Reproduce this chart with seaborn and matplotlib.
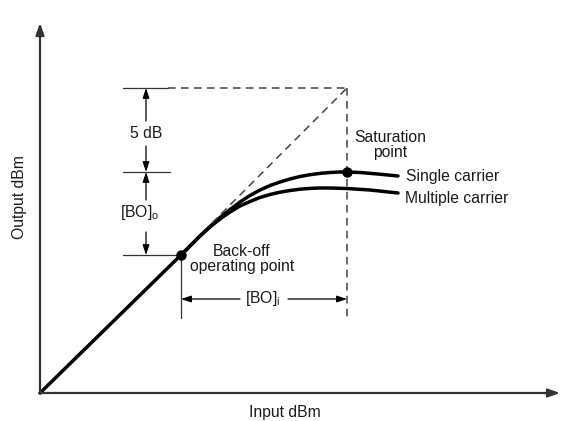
import matplotlib
matplotlib.use('Agg')
import matplotlib.pyplot as plt
import seaborn as sns

sns.set_style('white')
plt.rcParams['font.family'] = ['Liberation Sans', 'DejaVu Sans']

# chart units: origin at the axes corner, 1 unit ~ 1 px
linear_x = [0, 141]
linear_y = [0, 138]
ideal_x = [172, 307]
ideal_y = [170, 305]
single_x = [141, 150, 160, 170, 180, 190, 200, 210, 220, 230, 240, 250, 260, 270, 280, 290, 300, 307, 320, 340, 358]
single_y = [138, 147, 157, 166.5, 175.5, 183.5, 191, 197.5, 203, 207.5, 211, 214, 216.5, 218.3, 219.6, 220.5, 221, 221, 220.5, 218.8, 217]
multi_x = [141, 150, 160, 170, 180, 190, 200, 210, 220, 230, 240, 250, 260, 270, 280, 290, 307, 330, 358]
multi_y = [138, 147, 157, 166, 174, 181, 187, 191.5, 195.5, 198.5, 200.8, 202.5, 203.8, 204.6, 205, 205, 204.5, 203, 200]
backoff_pt = (141, 138)
sat_pt = (307, 221)
top_y = 305
floor_y = 75
dim_x = 106
bo_in_y = 94

fig = plt.figure(figsize=(5.71, 4.21), dpi=100)
ax = fig.add_axes([0, 0, 1, 1])
ax.set_xlim(-40, 531)
ax.set_ylim(-28, 393)
ax.axis('off')

lw = 2.5
for xs, ys in [(linear_x, linear_y), (single_x, single_y), (multi_x, multi_y)]:
    sns.lineplot(x=xs, y=ys, ax=ax, color='black', lw=lw, solid_joinstyle='round', solid_capstyle='round')
dash = dict(color='#444444', lw=1.1, ls=(0, (5, 3.5)))
ax.plot(ideal_x, ideal_y, **dash)
ax.plot([128, sat_pt[0]], [top_y, top_y], **dash)
ax.plot([sat_pt[0], sat_pt[0]], [top_y, floor_y], **dash)
ax.scatter([backoff_pt[0], sat_pt[0]], [backoff_pt[1], sat_pt[1]], s=42, color='black', zorder=5)

# axes with arrows
arrow = dict(arrowstyle='-|>,head_length=0.7,head_width=0.25', color='#333333', lw=1.6, shrinkA=0, shrinkB=0)
ax.annotate('', xy=(0, 370), xytext=(0, -0.5), arrowprops=arrow)
ax.annotate('', xy=(520, 0), xytext=(-0.5, 0), arrowprops=arrow)

# extension lines
ext = dict(color='#333333', lw=0.9)
ax.plot([83, 128], [top_y, top_y], **ext)
ax.plot([83, 130], [sat_pt[1], sat_pt[1]], **ext)
ax.plot([83, 141], [backoff_pt[1], backoff_pt[1]], **ext)
ax.plot([141, 141], [backoff_pt[1], floor_y], **ext)

dim = dict(arrowstyle='-|>,head_length=0.6,head_width=0.2', color='black', lw=0.9, shrinkA=0, shrinkB=0)
ax.annotate('', xy=(dim_x, top_y), xytext=(dim_x, 272), arrowprops=dim)
ax.annotate('', xy=(dim_x, sat_pt[1]), xytext=(dim_x, 247), arrowprops=dim)
ax.annotate('', xy=(dim_x, sat_pt[1]), xytext=(dim_x, 193), arrowprops=dim)
ax.annotate('', xy=(dim_x, backoff_pt[1]), xytext=(dim_x, 161), arrowprops=dim)
ax.annotate('', xy=(141, bo_in_y), xytext=(200, bo_in_y), arrowprops=dim)
ax.annotate('', xy=(sat_pt[0], bo_in_y), xytext=(248, bo_in_y), arrowprops=dim)

fs = 11.3
tc = '#1a1a1a'
ax.text(dim_x, 260, '5 dB', ha='center', va='center', fontsize=fs, color=tc)
ax.text(100, 180, '[BO]$_\\mathregular{o}$', ha='center', va='center', fontsize=fs, color=tc)
ax.text(223, bo_in_y, '[BO]$_\\mathregular{i}$', ha='center', va='center', fontsize=fs, color=tc)
ax.text(202, 134, 'Back-off\noperating point', ha='center', va='center', fontsize=fs, linespacing=1.0, color=tc)
ax.text(350, 248, 'Saturation\npoint', ha='center', va='center', fontsize=fs, linespacing=1.0, color=tc)
ax.text(366, 216, 'Single carrier', ha='left', va='center', fontsize=fs, color=tc)
ax.text(365, 195, 'Multiple carrier', ha='left', va='center', fontsize=fs, color=tc)
ax.text(-20, 196, 'Output dBm', ha='center', va='center', rotation=90, fontsize=fs, color=tc)
ax.text(245, -20, 'Input dBm', ha='center', va='center', fontsize=fs, color=tc)

fig.savefig('out.png', dpi=100)
